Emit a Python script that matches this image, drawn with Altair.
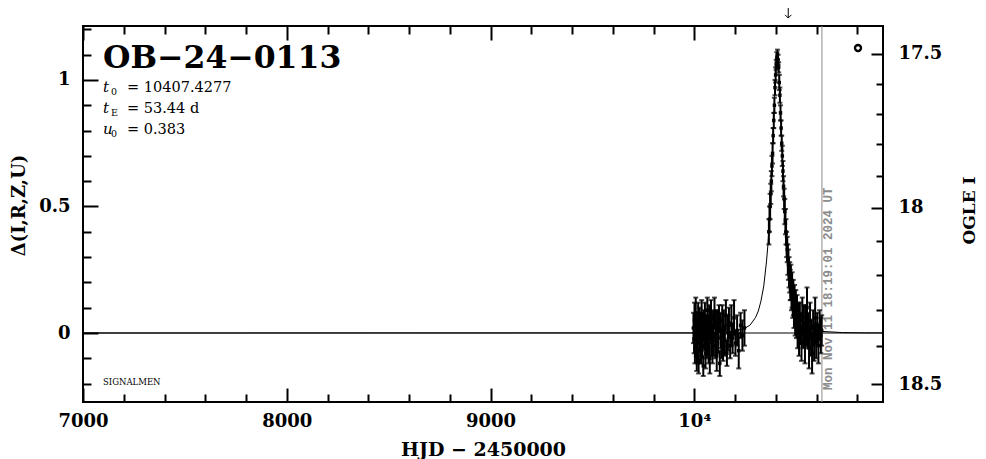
import altair as alt
import pandas as pd

# ---------------- data ----------------
# (HJD-2450000, delta, error)
obs_2023 = [
    (9996, 0.02, 0.06), (9999, -0.03, 0.05), (10001, 0.05, 0.07), (10003, -0.06, 0.06),
    (10005, 0.01, 0.05), (10007, 0.08, 0.06), (10010, -0.02, 0.07), (10012, -0.09, 0.06),
    (10014, 0.03, 0.05), (10016, -0.04, 0.08), (10019, 0.06, 0.06), (10021, -0.11, 0.05),
    (10024, 0.00, 0.07), (10026, 0.04, 0.06), (10029, -0.07, 0.05), (10031, 0.02, 0.06),
    (10034, -0.03, 0.09), (10036, 0.07, 0.06), (10039, -0.05, 0.05), (10041, 0.01, 0.07),
    (10044, -0.13, 0.04), (10047, 0.03, 0.06), (10049, -0.02, 0.05), (10052, 0.05, 0.07),
    (10055, -0.08, 0.06), (10058, 0.02, 0.05), (10061, -0.04, 0.06), (10064, 0.09, 0.05),
    (10067, -0.01, 0.08), (10070, -0.06, 0.06), (10073, 0.04, 0.07), (10076, -0.10, 0.06),
    (10079, 0.01, 0.05), (10082, 0.06, 0.07), (10085, -0.03, 0.06), (10089, -0.07, 0.05),
    (10092, 0.03, 0.06), (10095, -0.01, 0.08), (10099, 0.08, 0.06), (10103, -0.05, 0.05),
    (10106, 0.02, 0.07), (10110, -0.09, 0.06), (10113, 0.04, 0.05), (10117, -0.02, 0.06),
    (10121, 0.06, 0.05), (10125, -0.12, 0.05), (10129, 0.01, 0.07), (10133, -0.04, 0.06),
    (10137, 0.05, 0.06), (10141, -0.06, 0.05), (10145, 0.02, 0.07), (10150, -0.03, 0.06),
    (10155, 0.07, 0.06), (10160, -0.08, 0.05), (10165, 0.00, 0.07), (10170, 0.04, 0.06),
    (10176, -0.05, 0.05), (10182, 0.03, 0.08), (10188, -0.02, 0.06), (10195, 0.06, 0.07),
    (10202, -0.04, 0.05), (10210, 0.01, 0.06), (10218, -0.07, 0.07), (10227, 0.03, 0.05),
    (10236, -0.01, 0.06), (10246, 0.02, 0.07),
]
obs_2024 = [
    (10366, 0.40, 0.05), (10369, 0.45, 0.05), (10372, 0.50, 0.05), (10375, 0.55, 0.04),
    (10378, 0.60, 0.04), (10381, 0.66, 0.04), (10384, 0.71, 0.04), (10387, 0.78, 0.03),
    (10390, 0.84, 0.03), (10393, 0.90, 0.03), (10396, 0.97, 0.03), (10399, 1.02, 0.03),
    (10402, 1.06, 0.02), (10405, 1.09, 0.02), (10408, 1.10, 0.02), (10411, 1.08, 0.02),
    (10414, 1.05, 0.02), (10417, 0.99, 0.03), (10420, 0.94, 0.03), (10423, 0.87, 0.03),
    (10426, 0.81, 0.03), (10429, 0.75, 0.03), (10432, 0.70, 0.04), (10435, 0.64, 0.04),
    (10438, 0.58, 0.04), (10441, 0.53, 0.04), (10444, 0.48, 0.05), (10447, 0.44, 0.05),
    (10450, 0.40, 0.05), (10453, 0.35, 0.05), (10456, 0.33, 0.05), (10459, 0.29, 0.06),
    (10462, 0.27, 0.06), (10465, 0.24, 0.06), (10468, 0.22, 0.06), (10471, 0.19, 0.06),
    (10474, 0.20, 0.07), (10477, 0.15, 0.06), (10480, 0.17, 0.07), (10483, 0.12, 0.06),
    (10486, 0.14, 0.07), (10489, 0.09, 0.07), (10492, 0.13, 0.06), (10495, 0.06, 0.07),
    (10498, 0.10, 0.07), (10501, 0.04, 0.06), (10504, 0.08, 0.07), (10507, 0.01, 0.07),
    (10510, 0.06, 0.06), (10514, -0.02, 0.07), (10518, 0.05, 0.07), (10522, 0.02, 0.06),
    (10526, -0.04, 0.07), (10530, 0.07, 0.07), (10534, 0.00, 0.06), (10538, 0.04, 0.07),
    (10543, -0.05, 0.07), (10548, 0.03, 0.08), (10553, 0.10, 0.08), (10558, 0.01, 0.07),
    (10563, -0.06, 0.08), (10568, 0.05, 0.07), (10573, -0.02, 0.07), (10578, -0.08, 0.08),
    (10583, 0.02, 0.07), (10588, -0.04, 0.07), (10593, 0.06, 0.08), (10598, -0.03, 0.07),
    (10603, 0.02, 0.06), (10609, -0.05, 0.07), (10615, 0.03, 0.06), (10621, -0.01, 0.07),
    (10625, 0.01, 0.06),
]
# model curve (HJD-2450000, delta)
model_curve = [
    (7000, 0.0), (9980, 0.0005), (10087, 0.0016), (10194, 0.0066), (10247, 0.0178),
    (10274, 0.0317), (10300, 0.0607), (10314, 0.0866), (10327, 0.1260), (10341, 0.1865),
    (10354, 0.2809), (10361, 0.3464), (10367, 0.4275), (10374, 0.5271), (10381, 0.6472),
    (10387, 0.7852), (10394, 0.9295), (10401, 1.0499), (10407.4, 1.0991), (10414, 1.0499),
    (10421, 0.9295), (10427.5, 0.7852), (10434, 0.6472), (10441, 0.5271), (10447.5, 0.4275),
    (10454, 0.3464), (10461, 0.2809), (10474, 0.1865), (10488, 0.1260), (10501, 0.0866),
    (10514, 0.0607), (10541, 0.0317), (10568, 0.0178), (10621, 0.0066), (10728, 0.0016),
    (10835, 0.0005), (10926, 0.0003),
]

x_domain = [7000, 10926]
y_domain = [-0.2727, 1.2134]
x_major_ticks = [7000, 8000, 9000, 10000]
x_major_labels = ["7000", "8000", "9000", "10⁴"]
x_minor_ticks = [7200, 7400, 7600, 7800, 8200, 8400, 8600, 8800, 9200, 9400, 9600, 9800,
                 10200, 10400, 10600, 10800]
y_major_ticks = [0, 0.5, 1]
y_major_labels = ["0", "0.5", "1"]
y_minor_ticks = [-0.2, -0.1, 0.1, 0.2, 0.3, 0.4, 0.6, 0.7, 0.8, 0.9, 1.1, 1.2]
mag_major_labels = ["17.5", "18", "18.5"]
mag_major_pos = [1.1033, 0.4947, -0.2031]
mag_minor_pos = [0.9861, 0.8670, 0.7455, 0.6215, 0.3645, 0.2304, 0.0916, -0.0526]

now_hjd = 10626.26
arrow_hjd = 10461
event_name = "OB−24−0113"
param_rows = [("t", "0", "= 10407.4277"), ("t", "E", "= 53.44 d"), ("u", "0", "= 0.383")]
date_text = "Mon Nov 11 18:19:01 2024 UT"
signature = "SIGNALMEN"

# ---------------- chart ----------------
W, H = 800, 376
SERIF = "DejaVu Serif"

xs = alt.Scale(domain=x_domain, nice=False, zero=False)
ys = alt.Scale(domain=y_domain, nice=False, zero=False)

obs = pd.DataFrame(obs_2023 + obs_2024, columns=["t", "d", "e"])
model_df = pd.DataFrame(model_curve, columns=["t", "d"])
dummy = pd.DataFrame({"t": [x_domain[0]], "d": [0.0]})


def X(field="t:Q", axis=None):
    return alt.X(field, scale=xs, axis=axis)


def Y(field="d:Q", axis=None):
    return alt.Y(field, scale=ys, axis=axis)


def tick_axis(orient, offset, values, size):
    return alt.Axis(orient=orient, offset=offset, values=values, tickSize=size,
                    labels=False, domain=False, grid=False, title="", tickWidth=2,
                    tickColor="black")


def label_expr(values, labels):
    return " : ".join(
        f"abs(datum.value - ({v})) < 0.001 ? '{s}'" for v, s in zip(values, labels)
    ) + " : ''"


# axis carriers
ax_labels = alt.Chart(dummy).mark_point(opacity=0).encode(
    x=X(axis=alt.Axis(orient="bottom", values=x_major_ticks,
                      labelExpr=label_expr(x_major_ticks, x_major_labels),
                      labelFlush=False, labelOverlap=False,
                      ticks=False, domain=False, grid=False, labelPadding=10,
                      title="HJD  −  2450000", titleY=47, titleBaseline="middle")),
    y=Y(axis=alt.Axis(orient="left", values=y_major_ticks,
                      labelExpr=label_expr(y_major_ticks, y_major_labels),
                      labelFlush=False, labelOverlap=False,
                      ticks=False, domain=False, grid=False, labelPadding=13,
                      title="Δ(I,R,Z,U)", titleX=-64, titleY=179, titleAngle=270,
                      titleBaseline="middle", titleAlign="center", titleFontSize=18)),
)
ax_right_labels = alt.Chart(dummy).mark_point(opacity=0).encode(
    x=X(),
    y=Y(axis=alt.Axis(orient="right", values=mag_major_pos,
                      labelExpr=label_expr(mag_major_pos, mag_major_labels),
                      labelFlush=False, labelOverlap=False,
                      ticks=False, domain=False, grid=False, labelPadding=15,
                      title="OGLE I", titleX=86, titleY=184, titleAngle=270,
                      titleBaseline="middle", titleAlign="center", titleFontSize=17)),
)
ax_t1 = alt.Chart(dummy).mark_point(opacity=0).encode(
    x=X(axis=tick_axis("top", -H, x_major_ticks, 14)),
    y=Y(axis=tick_axis("right", -W, y_major_ticks, 15)),
)
ax_t2 = alt.Chart(dummy).mark_point(opacity=0).encode(
    x=X(axis=tick_axis("bottom", -H, x_major_ticks, 14)),
    y=Y(axis=tick_axis("left", -W, mag_major_pos, 12)),
)
ax_t3 = alt.Chart(dummy).mark_point(opacity=0).encode(
    x=X(axis=tick_axis("top", -H, x_minor_ticks, 8)),
    y=Y(axis=tick_axis("right", -W, y_minor_ticks, 8)),
)
ax_t4 = alt.Chart(dummy).mark_point(opacity=0).encode(
    x=X(axis=tick_axis("bottom", -H, x_minor_ticks, 8)),
    y=Y(axis=tick_axis("left", -W, mag_minor_pos, 7)),
)

zero_line = alt.Chart(pd.DataFrame({"d": [0.0]})).mark_rule(
    color="black", strokeWidth=1).encode(y=Y())
model_line = alt.Chart(model_df).mark_line(color="black", strokeWidth=1).encode(x=X(), y=Y())
now_line = alt.Chart(pd.DataFrame({"t": [now_hjd]})).mark_rule(
    color="#8c8c8c", strokeWidth=1).encode(x=X())

err_base = alt.Chart(obs).transform_calculate(lo="datum.d - datum.e", hi="datum.d + datum.e")
bars = err_base.mark_rule(color="black", strokeWidth=2).encode(x=X(), y=Y("lo:Q"), y2="hi:Q")
cap_lo = err_base.mark_tick(color="black", orient="horizontal", size=5, thickness=2).encode(
    x=X(), y=Y("lo:Q"))
cap_hi = err_base.mark_tick(color="black", orient="horizontal", size=5, thickness=2).encode(
    x=X(), y=Y("hi:Q"))
pts = alt.Chart(obs).mark_square(color="black", size=12, opacity=1).encode(x=X(), y=Y())

date_label = alt.Chart(pd.DataFrame({"t": [now_hjd], "s": [date_text]})).mark_text(
    angle=270, align="left", baseline="top", font="Liberation Mono", fontWeight="bold",
    fontSize=12.5, color="#8c8c8c").encode(x=X(), y=alt.value(364), text="s:N")

arrow_df = pd.DataFrame({"t": [arrow_hjd]})
arrow_shaft = alt.Chart(arrow_df).mark_rule(color="black", strokeWidth=1).encode(
    x=X(), y=alt.value(-18), y2=alt.value(-8))
arrow_head = alt.Chart(arrow_df).mark_point(
    shape="M-1,-1L0,0L1,-1", filled=False, color="black", size=40, strokeWidth=1,
    opacity=1).encode(x=X(), y=alt.value(-8))

title_txt = alt.Chart(dummy).mark_text(
    text=event_name, align="left", baseline="alphabetic", font=SERIF, fontSize=31.5,
    fontWeight="bold", color="black").encode(x=alt.value(20), y=alt.value(42))

param_layers = []
for i, (sym, sub, rest) in enumerate(param_rows):
    yb = 66 + 21 * i
    param_layers.append(alt.Chart(dummy).mark_text(
        text=sym, align="left", baseline="alphabetic", font=SERIF, fontStyle="italic",
        fontSize=15, color="black").encode(x=alt.value(20), y=alt.value(yb)))
    param_layers.append(alt.Chart(dummy).mark_text(
        text=sub, align="left", baseline="alphabetic", font=SERIF, fontSize=9.5,
        color="black").encode(x=alt.value(28), y=alt.value(yb + 3)))
    param_layers.append(alt.Chart(dummy).mark_text(
        text=rest, align="left", baseline="alphabetic", font=SERIF, fontSize=14.5,
        color="black").encode(x=alt.value(44), y=alt.value(yb)))

sig_txt = alt.Chart(dummy).mark_text(
    text=signature, align="left", baseline="alphabetic", font=SERIF, fontSize=8.5,
    color="black").encode(x=alt.value(20), y=alt.value(359))

legend_o = alt.Chart(dummy).mark_point(
    shape="circle", filled=False, color="black", size=36, strokeWidth=2.4,
    opacity=1).encode(x=alt.value(775), y=alt.value(22))

chart = alt.layer(
    ax_labels, ax_right_labels, ax_t1, ax_t2, ax_t3, ax_t4,
    zero_line, model_line, now_line, bars, cap_lo, cap_hi, pts,
    date_label, arrow_shaft, arrow_head, title_txt, *param_layers, sig_txt, legend_o,
).resolve_scale(x="shared", y="shared").resolve_axis(
    x="independent", y="independent"
).properties(
    width=W, height=H,
    autosize=alt.AutoSizeParams(type="none"),
    padding={"left": 75, "top": 18, "right": 95, "bottom": 57},
    background="white",
).configure_view(
    stroke="black", strokeWidth=2
).configure_axis(
    labelFont=SERIF, labelFontWeight="bold", labelFontSize=18, labelColor="black",
    titleFont=SERIF, titleFontWeight="bold", titleFontSize=19, titleColor="black",
    tickColor="black",
)

chart.save("out.html", embed_options={"renderer": "svg", "actions": False})
